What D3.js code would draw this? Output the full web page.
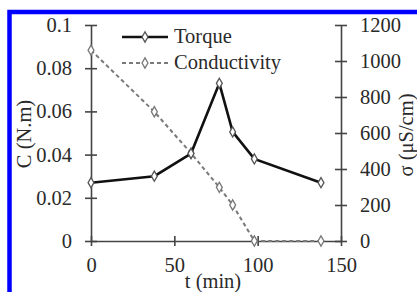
<!DOCTYPE html>
<html>
<head>
<meta charset="utf-8">
<script src="https://cdn.jsdelivr.net/npm/d3@7"></script>
<style>
    body { margin: 0; background: #fff; }
    svg text { font-family: "Liberation Serif", "Times New Roman", serif; fill: #2a2a2a; }
    .axis path, .axis line { stroke: #444; stroke-width: 1.6; }
</style>
</head>
<body>
<div id="chart"></div>
<script>

// data
let times = [0, 38, 60, 77, 85, 98, 138];
let torque = [0.027, 0.030, 0.0405, 0.073, 0.0505, 0.038, 0.027];
let conductivity = [1060, 718, 488, 298, 200, 0, 0];

let xTicks = [0, 50, 100, 150];
let leftTicks = [0, 0.02, 0.04, 0.06, 0.08, 0.1];
let rightTicks = [0, 200, 400, 600, 800, 1000, 1200];
let seriesNames = ["Torque", "Conductivity"];

let W = 417, H = 292;
let margin = {top: 25, right: 76, bottom: 51, left: 91};
let width = W - margin.left - margin.right;
let height = H - margin.top - margin.bottom;

let svg = d3.select("#chart").append("svg")
    .attr("width", W)
    .attr("height", H);

// blue frame (cut off at right/bottom)
svg.append("rect")
    .attr("x", 9.5).attr("y", 12)
    .attr("width", W + 20).attr("height", H + 20)
    .attr("fill", "none")
    .attr("stroke", "#0000ff")
    .attr("stroke-width", 4.5);

let g = svg.append("g")
    .attr("transform", `translate(${margin.left}, ${margin.top})`);

// scales
let x = d3.scaleLinear().domain([0, 150]).range([0, width]);
let yL = d3.scaleLinear().domain([0, 0.1]).range([height, 0]);
let yR = d3.scaleLinear().domain([0, 1200]).range([height, 0]);

let fontSize = 20.5;

// axes
let xAxis = d3.axisBottom(x).tickValues(xTicks).tickSize(6).tickSizeOuter(0).tickPadding(10);
let yAxisL = d3.axisLeft(yL).tickValues(leftTicks).tickFormat(d => d === 0 ? "0" : String(+d.toFixed(2))).tickSize(6).tickSizeOuter(0).tickPadding(13);
let yAxisR = d3.axisRight(yR).tickValues(rightTicks).tickFormat(d3.format("d")).tickSize(6).tickSizeOuter(0).tickPadding(13);

let gx = g.append("g").attr("class", "axis")
    .attr("transform", `translate(0, ${height})`)
    .call(xAxis);
gx.selectAll(".tick line").attr("y1", -5).attr("y2", 5);

let gl = g.append("g").attr("class", "axis").call(yAxisL);
gl.selectAll(".tick line").attr("x1", -6).attr("x2", 6);

let gr = g.append("g").attr("class", "axis")
    .attr("transform", `translate(${width}, 0)`)
    .call(yAxisR);
gr.selectAll(".tick line").attr("x1", -6).attr("x2", 6);

g.selectAll(".axis").attr("font-family", null);
g.selectAll(".axis text").attr("font-size", fontSize).style("fill", "#2a2a2a");

// axis titles
g.append("text")
    .attr("x", 122).attr("y", height + 47)
    .attr("text-anchor", "middle")
    .attr("font-size", fontSize)
    .text("t (min)");

g.append("text")
    .attr("transform", `translate(${-60}, ${109}) rotate(-90)`)
    .attr("text-anchor", "middle")
    .attr("font-size", fontSize)
    .text("C (N.m)");

g.append("text")
    .attr("transform", `translate(${width + 72}, ${110}) rotate(-90)`)
    .attr("text-anchor", "middle")
    .attr("font-size", fontSize)
    .text("σ (μS/cm)");

// lines
let torqueData = times.map((t, i) => ({t: t, v: torque[i]}));
let condData = times.map((t, i) => ({t: t, v: conductivity[i]}));

let diamond = d3.symbol().type(d3.symbolDiamond).size(30);

g.append("path")
    .datum(condData)
    .attr("fill", "none")
    .attr("stroke", "#7a7a7a")
    .attr("stroke-width", 2)
    .attr("stroke-dasharray", "4,3")
    .attr("d", d3.line().x(d => x(d.t)).y(d => yR(d.v)));

g.selectAll(".cond-pt")
    .data(condData)
    .enter().append("path")
    .attr("class", "cond-pt")
    .attr("transform", d => `translate(${x(d.t)}, ${yR(d.v)})`)
    .attr("d", diamond)
    .attr("fill", "#fff")
    .attr("stroke", "#777")
    .attr("stroke-width", 1.3);

g.append("path")
    .datum(torqueData)
    .attr("fill", "none")
    .attr("stroke", "#111")
    .attr("stroke-width", 2.6)
    .attr("d", d3.line().x(d => x(d.t)).y(d => yL(d.v)));

g.selectAll(".torque-pt")
    .data(torqueData)
    .enter().append("path")
    .attr("class", "torque-pt")
    .attr("transform", d => `translate(${x(d.t)}, ${yL(d.v)})`)
    .attr("d", diamond)
    .attr("fill", "#fff")
    .attr("stroke", "#555")
    .attr("stroke-width", 1.3);

// legend
let legend = g.append("g").attr("transform", "translate(31, 12)");
seriesNames.forEach((name, i) => {
    let row = legend.append("g").attr("transform", `translate(0, ${i * 26})`);
    row.append("line")
        .attr("x1", 0).attr("x2", 46)
        .attr("stroke", i === 0 ? "#111" : "#7a7a7a")
        .attr("stroke-width", i === 0 ? 2.6 : 2)
        .attr("stroke-dasharray", i === 0 ? null : "4,3");
    row.append("path")
        .attr("transform", "translate(23, 0)")
        .attr("d", diamond)
        .attr("fill", "#fff")
        .attr("stroke", i === 0 ? "#555" : "#777")
        .attr("stroke-width", 1.3);
    row.append("text")
        .attr("x", 52).attr("y", 6)
        .attr("font-size", fontSize)
        .text(name);
});

</script>
</body>
</html>
